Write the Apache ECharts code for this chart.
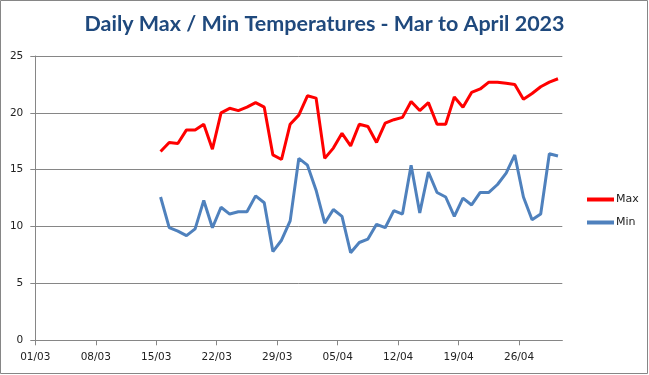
<!DOCTYPE html>
<html>
<head>
<meta charset="utf-8">
<script src="https://cdn.jsdelivr.net/npm/echarts@6/dist/echarts.min.js"></script>
<style>
html,body{margin:0;padding:0;background:#fff;}
#chart{width:649px;height:375px;}
</style>
</head>
<body>
<div id="chart"></div>
<script>
const titleText = 'Daily Max / Min Temperatures - Mar to April 2023';
const dates = ['15/03','16/03','17/03','18/03','19/03','20/03','21/03','22/03','23/03','24/03','25/03','26/03','27/03','28/03','29/03','30/03','31/03',
  '01/04','02/04','03/04','04/04','05/04','06/04','07/04','08/04','09/04','10/04','11/04','12/04','13/04','14/04','15/04','16/04','17/04','18/04','19/04','20/04','21/04','22/04','23/04','24/04','25/04','26/04','27/04','28/04','29/04','30/04'];
const maxTemps = [16.6,17.4,17.3,18.5,18.5,19.0,16.8,20.0,20.4,20.2,20.5,20.9,20.5,16.3,15.9,19.0,19.8,21.5,21.3,16.0,16.9,18.2,17.1,19.0,18.8,17.4,19.1,19.4,19.6,21.0,20.2,20.9,19.0,19.0,21.4,20.5,21.8,22.1,22.7,22.7,22.6,22.5,21.2,21.7,22.3,22.7,23.0];
const minTemps = [12.6,9.9,9.6,9.2,9.8,12.3,9.9,11.7,11.1,11.3,11.3,12.7,12.1,7.8,8.8,10.5,16.0,15.4,13.2,10.3,11.5,10.9,7.7,8.6,8.9,10.2,9.9,11.4,11.1,15.4,11.2,14.8,13.0,12.6,10.9,12.5,11.9,13.0,13.0,13.7,14.7,16.3,12.6,10.6,11.1,16.4,16.2];
const xTickLabels = ['01/03','08/03','15/03','22/03','29/03','05/04','12/04','19/04','26/04'];
const axisEnd = '01/05';

// day offset from 01/03
function dayIndex(d){
  const p = d.split('/').map(Number);
  return p[1] === 3 ? p[0] - 1 : (p[1] === 4 ? 31 + p[0] - 1 : 61 + p[0] - 1);
}
const tickValues = xTickLabels.map(dayIndex);
const labelByValue = {};
xTickLabels.forEach(l => { labelByValue[dayIndex(l)] = l; });
const maxData = dates.map((d, i) => [dayIndex(d) + 0.5, maxTemps[i]]);
const minData = dates.map((d, i) => [dayIndex(d) + 0.5, minTemps[i]]);

const chart = echarts.init(document.getElementById('chart'), null, {renderer:'canvas'});
const gray = '#868686';
const labelFont = {fontFamily:'DejaVu Sans', fontSize:10.5, color:'#222'};
chart.setOption({
  animation:false,
  backgroundColor:'#fff',
  title:{
    text:titleText, left:'center', top:8,
    textStyle:{fontFamily:'Lato', fontWeight:'bold', fontSize:21.5, color:'#1F497D'}
  },
  graphic:[{
    type:'rect', shape:{x:0.5,y:0.5,width:647,height:373},
    style:{fill:null, stroke:gray, lineWidth:1}, silent:true, z:-1
  }],
  legend:{
    orient:'vertical', left:582, top:189, itemWidth:27, itemHeight:4, itemGap:12,
    icon:'rect',
    textStyle:{fontFamily:'DejaVu Sans', fontSize:11, color:'#222', padding:[0,0,0,-3]},
    data:['Max','Min']
  },
  grid:{left:35.3, right:86.7, top:56, bottom:34.7, containLabel:false},
  xAxis:{
    type:'value', min:0, max:dayIndex(axisEnd), interval:7,
    axisLine:{show:true, lineStyle:{color:gray, width:1}},
    axisTick:{show:true, length:5, lineStyle:{color:gray}, customValues:tickValues},
    axisLabel:{...labelFont, margin:11, customValues:tickValues,
      formatter:v => labelByValue[v] || ''},
    splitLine:{show:false}
  },
  yAxis:{
    type:'value', min:0, max:25, interval:5,
    axisLine:{show:true, lineStyle:{color:gray, width:1}},
    axisTick:{show:true, length:5, lineStyle:{color:gray}},
    axisLabel:{...labelFont, margin:12},
    splitLine:{show:true, lineStyle:{color:gray, width:1}}
  },
  series:[
    {name:'Max', type:'line', data:maxData, showSymbol:false, symbol:'none',
     lineStyle:{color:'#FF0000', width:3}, itemStyle:{color:'#FF0000'}},
    {name:'Min', type:'line', data:minData, showSymbol:false, symbol:'none',
     lineStyle:{color:'#4F81BD', width:3}, itemStyle:{color:'#4F81BD'}}
  ]
});
</script>
</body>
</html>
